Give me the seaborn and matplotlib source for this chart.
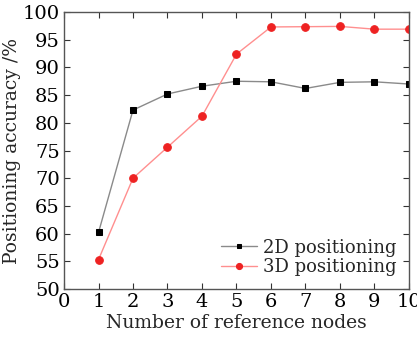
import matplotlib
matplotlib.use("Agg")
import matplotlib.pyplot as plt
import seaborn as sns
import pandas as pd

nodes = [1, 2, 3, 4, 5, 6, 7, 8, 9, 10]
acc_2d = [60.2, 82.3, 85.2, 86.6, 87.5, 87.4, 86.2, 87.3, 87.4, 87.0]
acc_3d = [55.3, 70.0, 75.6, 81.2, 92.4, 97.3, 97.35, 97.4, 96.9, 96.9]
series_names = ["2D positioning", "3D positioning"]
x_ticks = list(range(0, 11))
y_ticks = list(range(50, 101, 5))

sns.set_theme(style="white")
plt.rcParams['font.family'] = ['DejaVu Serif']
plt.rcParams['mathtext.fontset'] = 'dejavuserif'

df = pd.concat([
    pd.DataFrame({"x": nodes, "y": acc_2d, "s": series_names[0]}),
    pd.DataFrame({"x": nodes, "y": acc_3d, "s": series_names[1]}),
])

fig = plt.figure(figsize=(4.17, 3.43), dpi=100)
ax = fig.add_axes([64/417, 1-289/343, (409-64)/417, (289-12)/343])

sub = df[df.s == series_names[0]]
sns.lineplot(data=sub, x="x", y="y", ax=ax, color="#8a8a8a", lw=1.0,
             marker="s", markersize=4.2, markerfacecolor="black", markeredgecolor="black",
             label=series_names[0])
sub = df[df.s == series_names[1]]
sns.lineplot(data=sub, x="x", y="y", ax=ax, color="#ff8f8f", lw=1.0,
             marker="o", markersize=5.5, markerfacecolor="#ee2222", markeredgecolor="#ee2222",
             label=series_names[1])

ax.set_xlim(0, 10)
ax.set_ylim(50, 100)
ax.set_xticks(x_ticks)
ax.set_yticks(y_ticks)
ax.tick_params(direction="in", length=4, width=0.8, colors="#333333", labelsize=14,
               labelcolor="black", pad=3)
ax.tick_params(axis="y", right=True, left=True)
ax.tick_params(axis="x", top=True, bottom=True)
for sp in ax.spines.values():
    sp.set_color("#555555")
    sp.set_linewidth(1.0)
ax.set_xlabel("Number of reference nodes", fontsize=13.5, labelpad=2)
ax.set_ylabel("Positioning accuracy /%", fontsize=13.5, labelpad=1)
leg = ax.legend(loc="lower right", frameon=False, fontsize=13, handlelength=2.0,
                handletextpad=0.3, labelspacing=0.1, borderaxespad=0.3, markerscale=0.8)
fig.savefig("out.png", dpi=100)
